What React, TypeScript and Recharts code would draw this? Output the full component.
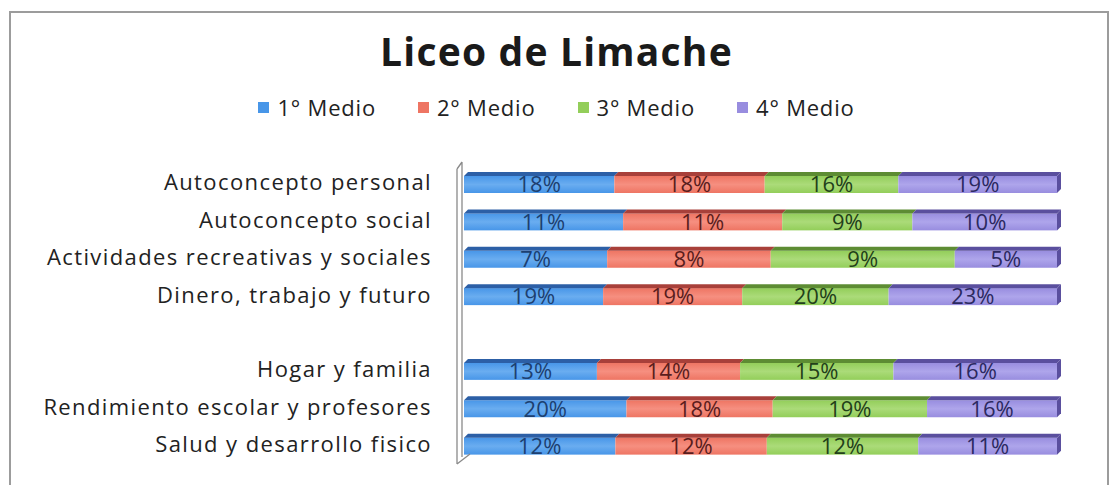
import React from "react";
import { BarChart, Bar, XAxis, YAxis, LabelList, Legend } from "recharts";

// categories (the empty one is the gap row in the original chart)
const categories = [
  "Autoconcepto personal",
  "Autoconcepto social",
  "Actividades recreativas y sociales",
  "Dinero, trabajo y futuro",
  "",
  "Hogar y familia",
  "Rendimiento escolar y profesores",
  "Salud y desarrollo fisico",
];

const medio1 = [18, 11, 7, 19, null, 13, 20, 12];
const medio2 = [18, 11, 8, 19, null, 14, 18, 12];
const medio3 = [16, 9, 9, 20, null, 15, 19, 12];
const medio4 = [19, 10, 5, 23, null, 16, 16, 11];

const seriesNames = ["1° Medio", "2° Medio", "3° Medio", "4° Medio"];

const data = categories.map((name, i) => ({
  name,
  m1: medio1[i],
  m2: medio2[i],
  m3: medio3[i],
  m4: medio4[i],
}));

const W = 1113;
const H = 485;
const M = { top: 164, right: 56, bottom: 22, left: 0 };
const AXIS_W = 464;
const DEPTH = 4;

const SERIES = [
  { key: "m1", front: "#4896e8", light: "#6aadf0", top: "#2c5fa6", text: "#1d3f70" },
  { key: "m2", front: "#ee7563", light: "#f68f80", top: "#a8403a", text: "#5a1d1d" },
  { key: "m3", front: "#93ce5a", light: "#abdb79", top: "#5d8c33", text: "#22401a" },
  { key: "m4", front: "#988ddf", light: "#aea5eb", top: "#5a4f9e", text: "#2b2960" },
];

const makeShape = (s: typeof SERIES[number], last: boolean) => (props: any) => {
  const { x, y, width, height } = props;
  if (!(width > 0) || !(height > 0)) return null;
  const d = DEPTH;
  return (
    <g>
      <rect x={x} y={y + d} width={width} height={height - d} fill={`url(#grad-${s.key})`} />
      <polygon
        points={`${x},${y + d} ${x + d},${y} ${x + width + d},${y} ${x + width},${y + d}`}
        fill={s.top}
      />
      {last && (
        <polygon
          points={`${x + width},${y + d} ${x + width + d},${y} ${x + width + d},${y + height - d} ${x + width},${y + height}`}
          fill={s.top}
        />
      )}
    </g>
  );
};

const renderLegend = () => (
  <div style={{ display: "flex", justifyContent: "center", gap: 42, fontFamily: "Open Sans", fontSize: 22, letterSpacing: 0.8, color: "#222" }}>
    {SERIES.map((s, i) => (
      <div key={s.key} style={{ display: "flex", alignItems: "center", gap: 8 }}>
        <span style={{ width: 11, height: 11, background: s.front, display: "inline-block" }} />
        <span>{seriesNames[i]}</span>
      </div>
    ))}
  </div>
);

const fmt = (v: any) => (v == null ? "" : `${v}%`);

export default function App() {
  const L = AXIS_W;
  const T = M.top;
  const B = H - M.bottom;
  return (
    <div style={{ position: "absolute", left: 0, top: 0, width: W, height: H, background: "#fff", overflow: "hidden" }}>
      <div
        style={{
          position: "absolute", left: 9, top: 11, width: 1096, height: 480,
          border: "2px solid #9c9c9c", borderBottom: "none",
        }}
      />
      <div
        style={{
          position: "absolute", left: 0, top: 28, width: W, textAlign: "center",
          fontFamily: "Open Sans", fontWeight: 700, fontSize: 39, letterSpacing: 1.2, color: "#1a1a1a", lineHeight: 1.2,
        }}
      >
        Liceo de Limache
      </div>
      <div style={{ position: "absolute", left: 0, top: 0 }}>
        <BarChart width={W} height={H} data={data} layout="vertical" stackOffset="expand" margin={M} barSize={21}>
          <defs>
            {SERIES.map((s) => (
              <linearGradient key={s.key} id={`grad-${s.key}`} x1="0" y1="0" x2="0" y2="1">
                <stop offset="0%" stopColor={s.front} />
                <stop offset="50%" stopColor={s.light} />
                <stop offset="100%" stopColor={s.front} />
              </linearGradient>
            ))}
          </defs>
          <XAxis type="number" hide domain={[0, 1]} />
          <YAxis
            type="category"
            dataKey="name"
            width={AXIS_W}
            axisLine={false}
            tickLine={false}
            tickSize={0}
            tickMargin={32}
            interval={0}
            tick={{ fontFamily: "Open Sans", fontSize: 22, letterSpacing: 1.4, fill: "#222" }}
          />
          <Legend
            layout="horizontal"
            verticalAlign="middle"
            align="center"
            content={renderLegend}
            wrapperStyle={{ top: 92, left: 0, width: W }}
          />
          {SERIES.map((s, i) => (
            <Bar
              key={s.key}
              dataKey={s.key}
              name={seriesNames[i]}
              stackId="a"
              fill={s.front}
              shape={makeShape(s, i === SERIES.length - 1)}
              isAnimationActive={false}
            >
              <LabelList dataKey={s.key} position="center" formatter={fmt} fill={s.text} fontSize={22} fontFamily="Open Sans" dy={2} />
            </Bar>
          ))}
        </BarChart>
      </div>
      <svg style={{ position: "absolute", left: 0, top: 0 }} width={W} height={H}>
        <g stroke="#8a8a8a" strokeWidth={1.3} fill="none">
          <path d={`M${L - 7},${T + 5} L${L - 2},${T - 2} M${L - 7},${T + 5} V${B + 1} M${L - 2},${T - 2} V${B - 6} M${L - 7},${B + 1} L${L + 6},${B - 9}`} />
        </g>
      </svg>
    </div>
  );
}
